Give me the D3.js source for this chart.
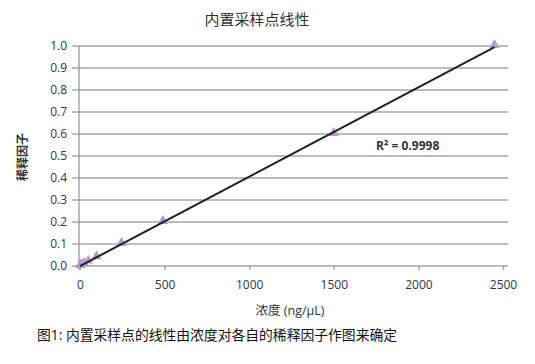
<!DOCTYPE html>
<html>
<head>
<meta charset="utf-8">
<script src="https://cdn.jsdelivr.net/npm/d3@7"></script>
<style>
  body { margin: 0; background: #fff; }
  text { font-family: "Open Sans", "Noto Sans CJK SC", sans-serif; }
</style>
</head>
<body>
<div id="chart"></div>
<script>
// data
let concentration = [0, 4.9, 9.8, 24.5, 49, 98, 245, 490, 1500, 2450];
let dilution = [0, 0.002, 0.004, 0.01, 0.02, 0.04, 0.1, 0.2, 0.6, 1.0];
let xTicks = [0, 500, 1000, 1500, 2000, 2500];
let yTicks = [0, 0.1, 0.2, 0.3, 0.4, 0.5, 0.6, 0.7, 0.8, 0.9, 1.0];
let r2Label = 'R² = 0.9998';

let width = 535, height = 364;
let svg = d3.select('#chart').append('svg').attr('width', width).attr('height', height);

let x = d3.scaleLinear().domain([0, 2500]).range([80, 503]);
let y = d3.scaleLinear().domain([0, 1]).range([266, 46]);

// title
svg.append('text').attr('x', 257).attr('y', 25).attr('text-anchor', 'middle')
  .attr('font-size', 15).attr('fill', '#333').text('内置采样点线性');

// grid lines
svg.append('g').selectAll('line').data(yTicks).enter().append('line')
  .attr('x1', 72).attr('x2', 508)
  .attr('y1', d => y(d)).attr('y2', d => y(d))
  .attr('stroke', '#a6a6a6').attr('stroke-width', 1.5);

// y axis
let yAxis = d3.axisLeft(y).tickValues(yTicks).tickFormat(d3.format('.1f')).tickSize(0).tickPadding(12);
let gy = svg.append('g').attr('transform', 'translate(79,0)').call(yAxis);
gy.select('.domain').remove();
gy.append('line').attr('x1', 0).attr('x2', 0).attr('y1', y(1)).attr('y2', y(0) + 4)
  .attr('stroke', '#a6a6a6').attr('stroke-width', 1.5);
gy.selectAll('text').attr('font-size', 12).attr('fill', '#2d3650')
  .style('font-family', '"Open Sans", sans-serif');

// x axis
let xAxis = d3.axisBottom(x).tickValues(xTicks).tickFormat(d3.format('d')).tickSize(4).tickPadding(10);
let gx = svg.append('g').attr('transform', 'translate(0,' + y(0) + ')').call(xAxis);
gx.select('.domain').remove();
gx.selectAll('line').attr('stroke', '#a6a6a6').attr('stroke-width', 1.5);
gx.selectAll('text').attr('font-size', 12).attr('fill', '#2d3650')
  .style('font-family', '"Open Sans", sans-serif');

// axis titles
svg.append('text').attr('transform', 'translate(27,157) rotate(-90)').attr('text-anchor', 'middle')
  .attr('font-size', 12).attr('font-weight', 600).attr('fill', '#333').text('稀释因子');
svg.append('text').attr('x', 290).attr('y', 315).attr('text-anchor', 'middle')
  .attr('font-size', 12.5).attr('fill', '#333').text('浓度 (ng/µL)');

// linear trendline (least squares)
let mx = d3.mean(concentration), my = d3.mean(dilution);
let sxy = d3.sum(concentration, (c, i) => (c - mx) * (dilution[i] - my));
let sxx = d3.sum(concentration, c => (c - mx) * (c - mx));
let slope = sxy / sxx, intercept = my - slope * mx;
let ext = d3.extent(concentration);
let line = d3.line().x(d => x(d)).y(d => y(intercept + slope * d));

// points
svg.append('g').selectAll('path').data(concentration).enter().append('path')
  .attr('transform', (d, i) => 'translate(' + x(d) + ',' + (y(dilution[i]) - 1) + ')')
  .attr('d', d3.symbol().type(d3.symbolTriangle).size(45))
  .attr('fill', '#b996cc');

svg.append('path').attr('d', line(ext)).attr('fill', 'none')
  .attr('stroke', '#231f20').attr('stroke-width', 2);

// R2 label
svg.append('text').attr('x', 376).attr('y', 150).attr('font-size', 12).attr('font-weight', 'bold')
  .attr('fill', '#333').text(r2Label);

// caption
svg.append('text').attr('x', 37).attr('y', 340).attr('font-size', 13.8).attr('fill', '#111')
  .text('图1: 内置采样点的线性由浓度对各自的稀释因子作图来确定');
</script>
</body>
</html>
